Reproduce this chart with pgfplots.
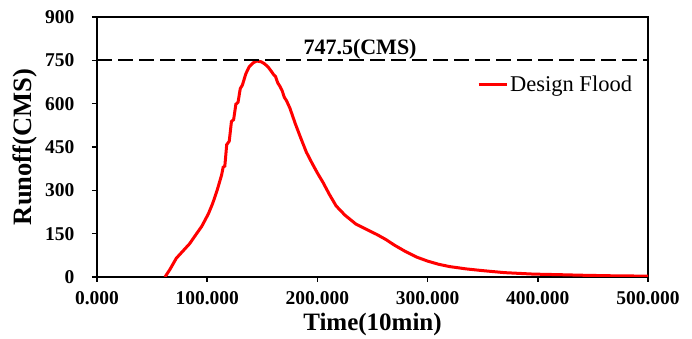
\documentclass[border=0pt]{standalone}
\usepackage{pgfplots}
\pgfplotsset{compat=1.18}
\usepackage{fontspec}
\setmainfont{Liberation Serif}
\begin{document}
\begin{tikzpicture}
\begin{axis}[name=ax,
  scale only axis, width=551pt, height=260pt,
  xmin=0, xmax=500, ymin=0, ymax=900,
  xtick={0,100,...,500}, ytick={0,150,...,900},
  tick align=outside, tick pos=left,
  major tick length=5pt,
  axis line style={line width=1.6pt}, every tick/.style={line width=1.5pt, black},
  /pgf/number format/assume math mode=true,
  ticklabel style={font=\fontsize{19.5}{22}\selectfont\bfseries},
  yticklabel style={xshift=-14pt, /pgf/number format/.cd, fixed, precision=0},
  xticklabel style={yshift=-6pt, /pgf/number format/.cd, fixed, fixed zerofill, precision=3, 1000 sep={}},
  xlabel={Time(10min)}, ylabel={Runoff(CMS)},
  xlabel style={font=\fontsize{25}{28}\selectfont\bfseries, at={(axis description cs:0.5,-0.138)}, anchor=north, inner sep=0pt},
  ylabel style={font=\fontsize{26.5}{30}\selectfont\bfseries, at={(axis description cs:-0.109,0.5)}, anchor=south, inner sep=0pt},
  legend style={at={(0.975,0.742)}, anchor=east, draw=none, fill=none, inner sep=0pt, font=\fontsize{22.5}{26}\selectfont},
  legend image code/.code={\draw[#1] (0pt,0pt) -- (28pt,0pt);},
  legend cell align=left,
]
\addplot[red, line width=3pt] coordinates {
(61.7,0) (66,25) (72,65) (78,90) (84,115) (90,148) (95,175) (101,218) (105,255) (109,300) (113,352) (114.5,380) (116,384) (117.7,458) (120,470) (122,538) (124,545) (126,598) (128,605) (130,652) (132,665) (135,703) (138,727) (142,742) (145,747.5) (149,745) (152,738) (155,728) (158,713) (160,702) (162,694) (164,672) (166,660) (168,645) (170,622) (172,610) (175,585) (180,530) (185,480) (190,432) (195,395) (200,360) (205,328) (211,285) (217,246) (225,214) (235,183) (245,164) (254,147) (262,130) (270,110) (280,88) (290,69) (300,55) (310,44) (320,36) (335,28) (350,22) (370,15) (396,10) (420,8) (441,6) (470,4) (500,3)
};
\addlegendentry{Design Flood}
\addplot[black, line width=2pt, dash pattern=on 15pt off 6pt, forget plot] coordinates {(0,750) (500,750)};
\node[font=\fontsize{22}{25}\selectfont\bfseries] at (axis cs:238.7,789) {747.5(CMS)};
\end{axis}
\pgfresetboundingbox
\path[use as bounding box] ([shift={(-97pt,-62pt)}]ax.south west) rectangle ([shift={(44pt,17pt)}]ax.north east);
\end{tikzpicture}
\end{document}
